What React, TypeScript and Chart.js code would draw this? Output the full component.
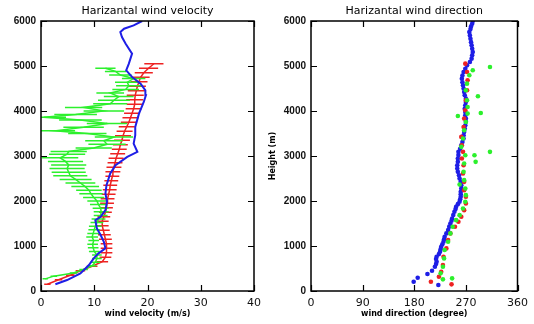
import React, { useEffect, useRef } from "react";
import { Chart, registerables } from "chart.js";
Chart.register(...registerables);

// ---------- Tick values ----------
const heightTicks = [0, 1000, 2000, 3000, 4000, 5000, 6000];
const velocityTicks = [0, 10, 20, 30, 40];
const directionTicks = [0, 90, 180, 270, 360];

// ---------- Left panel: wind velocity ----------
const blueVelHeight = [150, 244, 392, 577, 725, 836, 947, 1095, 1243, 1391, 1575, 1650, 1797, 1982, 2167, 2352, 2611, 2796, 2981, 3092, 3277, 3462, 3646, 3942, 4201, 4350, 4460, 4608, 4756, 4904, 5052, 5274, 5496, 5644, 5754, 5828, 5902, 6000];
const blueVel = [2.7, 4.9, 7.4, 9.0, 9.9, 10.8, 12.1, 11.8, 11.2, 10.5, 10.2, 11.2, 12.1, 12.4, 12.1, 12.3, 13.0, 14.0, 16.2, 18.1, 17.4, 17.7, 17.7, 18.4, 19.3, 19.7, 19.6, 18.7, 17.1, 16.0, 16.5, 17.1, 15.9, 15.2, 14.9, 15.6, 17.4, 19.0];

const redVelHeight = [150, 250, 350, 450, 550, 650, 750, 850, 950, 1050, 1150, 1250, 1350, 1450, 1550, 1650, 1750, 1850, 1950, 2050, 2150, 2250, 2350, 2450, 2550, 2650, 2750, 2850, 2950, 3050, 3150, 3250, 3350, 3450, 3550, 3650, 3750, 3850, 3950, 4050, 4150, 4250, 4350, 4450, 4550, 4650, 4750, 4850, 4950, 5050];
const redVel = [1.2, 3.3, 5.5, 7.4, 9.6, 11.5, 12.1, 12.3, 12.3, 12.3, 12.1, 11.9, 11.7, 11.5, 11.5, 11.8, 12.1, 12.3, 12.4, 12.5, 12.7, 12.9, 13.0, 13.2, 13.4, 13.5, 13.7, 13.9, 14.1, 14.4, 14.7, 14.9, 15.2, 15.4, 15.7, 16.1, 16.5, 16.8, 17.1, 17.4, 17.6, 17.6, 17.7, 17.9, 18.1, 18.4, 18.7, 19.3, 20.2, 21.2];
const redVelErr = [0.6, 0.7, 0.8, 0.9, 1.0, 1.1, 1.1, 1.1, 1.1, 1.1, 1.2, 1.2, 1.2, 1.2, 1.2, 1.2, 1.2, 1.2, 1.3, 1.3, 1.3, 1.3, 1.3, 1.3, 1.3, 1.4, 1.4, 1.4, 1.4, 1.4, 1.4, 1.4, 1.5, 1.5, 1.5, 1.5, 1.5, 1.5, 1.5, 1.5, 1.5, 1.6, 1.6, 1.6, 1.6, 1.6, 1.7, 1.7, 1.8, 1.8];

const greenVelHeight = [270, 330, 400, 480, 560, 640, 720, 800, 880, 960, 1040, 1120, 1200, 1280, 1360, 1440, 1520, 1600, 1680, 1760, 1840, 1920, 2000, 2080, 2160, 2240, 2320, 2400, 2480, 2560, 2640, 2720, 2800, 2880, 2960, 3040, 3100, 3180, 3260, 3340, 3420, 3500, 3560, 3640, 3720, 3800, 3860, 3920, 4000, 4080, 4160, 4240, 4320, 4400, 4480, 4560, 4640, 4720, 4800, 4880, 4950];
const greenVel = [0.8, 2.4, 6.1, 8.0, 9.6, 10.2, 10.5, 10.5, 10.0, 9.8, 9.7, 9.9, 9.6, 9.8, 10.0, 10.2, 10.5, 10.8, 11.2, 11.3, 11.2, 10.8, 10.5, 9.9, 9.4, 9.0, 8.3, 7.4, 6.5, 5.5, 5.2, 4.9, 5.2, 4.6, 3.6, 4.9, 5.2, 9.9, 12.4, 11.8, 13.7, 8.7, 2.7, 8.0, 12.4, 7.4, 0.5, 6.5, 11.8, 8.0, 13.0, 13.7, 14.6, 13.0, 15.9, 16.5, 16.2, 17.4, 14.9, 14.0, 12.1];
const greenVelErr = [0.5, 0.6, 0.7, 0.8, 0.8, 0.9, 0.9, 0.9, 1.0, 1.0, 1.0, 1.0, 1.1, 1.1, 1.1, 1.2, 1.2, 1.3, 1.3, 1.4, 1.5, 1.6, 1.8, 2.0, 2.2, 2.4, 2.6, 2.8, 3.0, 3.2, 3.2, 3.3, 3.3, 3.3, 3.4, 3.4, 3.4, 3.4, 3.5, 3.5, 3.6, 3.6, 3.7, 3.8, 3.8, 4.0, 4.2, 4.0, 3.8, 3.5, 3.2, 3.0, 2.8, 2.6, 2.5, 2.4, 2.3, 2.2, 2.1, 2.0, 1.9];

// ---------- Right panel: wind direction ----------
const blueDirHeight = [133, 207, 296, 377, 451, 540, 600, 651, 710, 762, 820, 873, 930, 984, 1040, 1095, 1150, 1206, 1280, 1354, 1430, 1501, 1560, 1612, 1690, 1760, 1820, 1871, 1930, 1982, 2040, 2093, 2150, 2204, 2280, 2352, 2430, 2500, 2570, 2648, 2720, 2796, 2870, 2944, 3020, 3092, 3160, 3240, 3310, 3388, 3460, 3536, 3610, 3683, 3760, 3831, 3905, 3979, 4050, 4127, 4200, 4275, 4350, 4423, 4500, 4571, 4640, 4719, 4790, 4867, 4940, 5015, 5090, 5163, 5240, 5311, 5385, 5459, 5530, 5607, 5680, 5754, 5820, 5880, 5940, 6000];
const blueDir = [222, 179, 186, 203, 211, 216, 218, 219, 218, 219, 223, 225, 226, 227, 229, 231, 232, 233, 236, 239, 241, 243, 245, 246, 248, 250, 252, 253, 256, 259, 260, 261, 261, 261, 262, 262, 261, 259, 258, 256, 255, 255, 256, 256, 257, 257, 260, 262, 264, 266, 266, 267, 268, 269, 270, 270, 269, 269, 268, 269, 270, 270, 268, 267, 266, 265, 264, 263, 264, 266, 269, 272, 277, 280, 281, 282, 281, 280, 279, 278, 277, 276, 278, 279, 281, 282];

const redDirHeight = [148, 207, 318, 429, 577, 762, 947, 1132, 1280, 1428, 1538, 1650, 1797, 1945, 2093, 2241, 2426, 2611, 2796, 2944, 3092, 3240, 3425, 3646, 3831, 4016, 4238, 4460, 4682, 4867, 5052];
const redDir = [245, 209, 223, 227, 230, 231, 236, 239, 243, 251, 257, 262, 267, 270, 270, 267, 267, 265, 266, 263, 265, 263, 262, 266, 267, 269, 270, 272, 273, 272, 269];

const greenDirHeight = [259, 281, 392, 540, 725, 910, 1095, 1280, 1428, 1575, 1686, 1834, 1982, 2130, 2278, 2367, 2463, 2648, 2833, 2870, 3018, 3018, 3092, 3203, 3388, 3572, 3757, 3890, 3942, 3957, 4090, 4238, 4327, 4460, 4608, 4793, 4904, 4978];
const greenDir = [230, 246, 226, 230, 232, 233, 239, 243, 247, 253, 259, 265, 269, 270, 269, 259, 267, 266, 267, 287, 269, 285, 312, 262, 265, 267, 270, 256, 273, 296, 273, 272, 291, 270, 272, 276, 282, 312];

// ---------- Colours ----------
const BLUE = "#1e1ee6";
const RED = "#ee2222";
const GREEN = "#2cf02c";

const toPoints = (xs: number[], ys: number[]) => xs.map((x, i) => ({ x, y: ys[i] }));

const framePlugin = {
  id: "frame",
  afterDatasetsDraw(chart: any) {
    const { ctx, chartArea: a, scales } = chart;
    ctx.save();
    ctx.strokeStyle = "#000";
    ctx.lineWidth = 1.5;
    ctx.strokeRect(a.left, a.top, a.right - a.left, a.bottom - a.top);
    ctx.lineWidth = 1.2;
    const tl = 6;
    ctx.beginPath();
    const xs = scales.x;
    for (const t of xs.ticks) {
      const px = Math.round(xs.getPixelForValue(t.value)) + 0.5;
      ctx.moveTo(px, a.bottom);
      ctx.lineTo(px, a.bottom - tl);
      ctx.moveTo(px, a.top);
      ctx.lineTo(px, a.top + tl);
    }
    const ys = scales.y;
    for (const t of ys.ticks) {
      const py = Math.round(ys.getPixelForValue(t.value)) + 0.5;
      ctx.moveTo(a.left, py);
      ctx.lineTo(a.left + tl, py);
      ctx.moveTo(a.right, py);
      ctx.lineTo(a.right - tl, py);
    }
    ctx.stroke();
    ctx.restore();
  },
};

const textPlugin = {
  id: "panelText",
  afterDraw(chart: any, _args: any, opts: any) {
    const { ctx, chartArea: a } = chart;
    ctx.save();
    ctx.fillStyle = "#000";
    ctx.textAlign = "center";
    ctx.textBaseline = "middle";
    ctx.font = '11px "DejaVu Sans"';
    if (opts.title) ctx.fillText(opts.title, (a.left + a.right) / 2, 11);
    ctx.font = 'bold 8px "DejaVu Sans"';
    if (opts.xTitle) ctx.fillText(opts.xTitle, (a.left + a.right) / 2, 314);
    if (opts.yTitle) {
      ctx.translate(opts.yTitleX, (a.top + a.bottom) / 2);
      ctx.rotate(-Math.PI / 2);
      ctx.fillText(opts.yTitle, 0, 0);
    }
    ctx.restore();
  },
};

const errorBarPlugin = {
  id: "errorBars",
  afterDatasetDraw(chart: any, args: any) {
    const ds = chart.data.datasets[args.index];
    if (!ds.errorBars) return;
    const { ctx, chartArea: a, scales } = chart;
    const meta = args.meta;
    ctx.save();
    ctx.beginPath();
    ctx.rect(a.left, a.top, a.right - a.left, a.bottom - a.top);
    ctx.clip();
    ctx.strokeStyle = ds.borderColor;
    ctx.lineWidth = 1.5;
    ctx.beginPath();
    ds.data.forEach((p: any, i: number) => {
      const e = ds.errorBars[i];
      const y = meta.data[i].y;
      ctx.moveTo(scales.x.getPixelForValue(p.x - e), y);
      ctx.lineTo(scales.x.getPixelForValue(p.x + e), y);
    });
    ctx.stroke();
    ctx.restore();
  },
};

function makeScales(xMin: number, xMax: number, xTicks: number[], yWidth: number) {
  return {
    x: {
      type: "linear" as const,
      min: xMin,
      max: xMax,
      afterBuildTicks: (s: any) => { s.ticks = xTicks.map((v) => ({ value: v })); },
      ticks: { font: { family: "DejaVu Sans", size: 11 }, color: "#111", padding: 6, autoSkip: false, maxRotation: 0, callback: (v: any) => String(v) },
      grid: { display: false, drawTicks: false },
      border: { display: false },
      afterFit: (s: any) => { s.height = 33; },
    },
    y: {
      type: "linear" as const,
      min: 0,
      max: 6000,
      afterBuildTicks: (s: any) => { s.ticks = heightTicks.map((v) => ({ value: v })); },
      ticks: { font: { family: "Liberation Sans", size: 10, weight: "bold" as const }, color: "#111", padding: 5, autoSkip: false, callback: (v: any) => String(v) },
      grid: { display: false, drawTicks: false },
      border: { display: false },
      afterFit: (s: any) => { s.width = yWidth; },
    },
  };
}

function VelocityPanel() {
  const ref = useRef<HTMLCanvasElement>(null);
  useEffect(() => {
    const chart = new Chart(ref.current!, {
      type: "scatter",
      data: {
        datasets: [
          {
            data: toPoints(blueVel, blueVelHeight),
            showLine: true,
            borderColor: BLUE,
            borderWidth: 2,
            pointRadius: 0,
            order: 0,
          } as any,
          {
            data: toPoints(greenVel, greenVelHeight),
            showLine: true,
            borderColor: GREEN,
            borderWidth: 1.5,
            pointRadius: 0,
            errorBars: greenVelErr,
            order: 1,
          } as any,
          {
            data: toPoints(redVel, redVelHeight),
            showLine: true,
            borderColor: RED,
            borderWidth: 1.5,
            pointRadius: 0,
            errorBars: redVelErr,
            order: 2,
          } as any,
        ],
      },
      options: {
        animation: false,
        responsive: false,
        layout: { padding: { top: 21, right: 13, left: 0, bottom: 0 } },
        plugins: {
          legend: { display: false },
          tooltip: { enabled: false },
          panelText: { title: "Harizantal wind velocity", xTitle: "wind velocity (m/s)" },
        } as any,
        scales: makeScales(0, 40, velocityTicks, 41),
      },
      plugins: [errorBarPlugin, framePlugin, textPlugin],
    });
    return () => chart.destroy();
  }, []);
  return <canvas ref={ref} width={267} height={324} style={{ position: "absolute", left: 0, top: 0, width: 267, height: 324 }} />;
}

function DirectionPanel() {
  const ref = useRef<HTMLCanvasElement>(null);
  useEffect(() => {
    const pt = { pointRadius: 2.3, pointBorderWidth: 0, showLine: false };
    const chart = new Chart(ref.current!, {
      type: "scatter",
      data: {
        datasets: [
          { data: toPoints(greenDir, greenDirHeight), backgroundColor: GREEN, borderColor: GREEN, ...pt, order: 0 } as any,
          { data: toPoints(redDir, redDirHeight), backgroundColor: RED, borderColor: RED, ...pt, order: 1 } as any,
          { data: toPoints(blueDir, blueDirHeight), backgroundColor: BLUE, borderColor: BLUE, ...pt, order: 2 } as any,
        ],
      },
      options: {
        animation: false,
        responsive: false,
        layout: { padding: { top: 21, right: 13, left: 0, bottom: 0 } },
        plugins: {
          legend: { display: false },
          tooltip: { enabled: false },
          panelText: { title: "Harizantal wind direction", xTitle: "wind direction (degree)", yTitle: "Height (m)", yTitleX: 6 },
        } as any,
        scales: makeScales(0, 360, directionTicks, 44),
      },
      plugins: [framePlugin, textPlugin],
    });
    return () => chart.destroy();
  }, []);
  return <canvas ref={ref} width={267} height={324} style={{ position: "absolute", left: 267, top: 0, width: 267, height: 324 }} />;
}

export default function App() {
  return (
    <div style={{ position: "fixed", left: 0, top: 0, width: 534, height: 324, background: "#fff", overflow: "hidden" }}>
      <VelocityPanel />
      <DirectionPanel />
    </div>
  );
}
